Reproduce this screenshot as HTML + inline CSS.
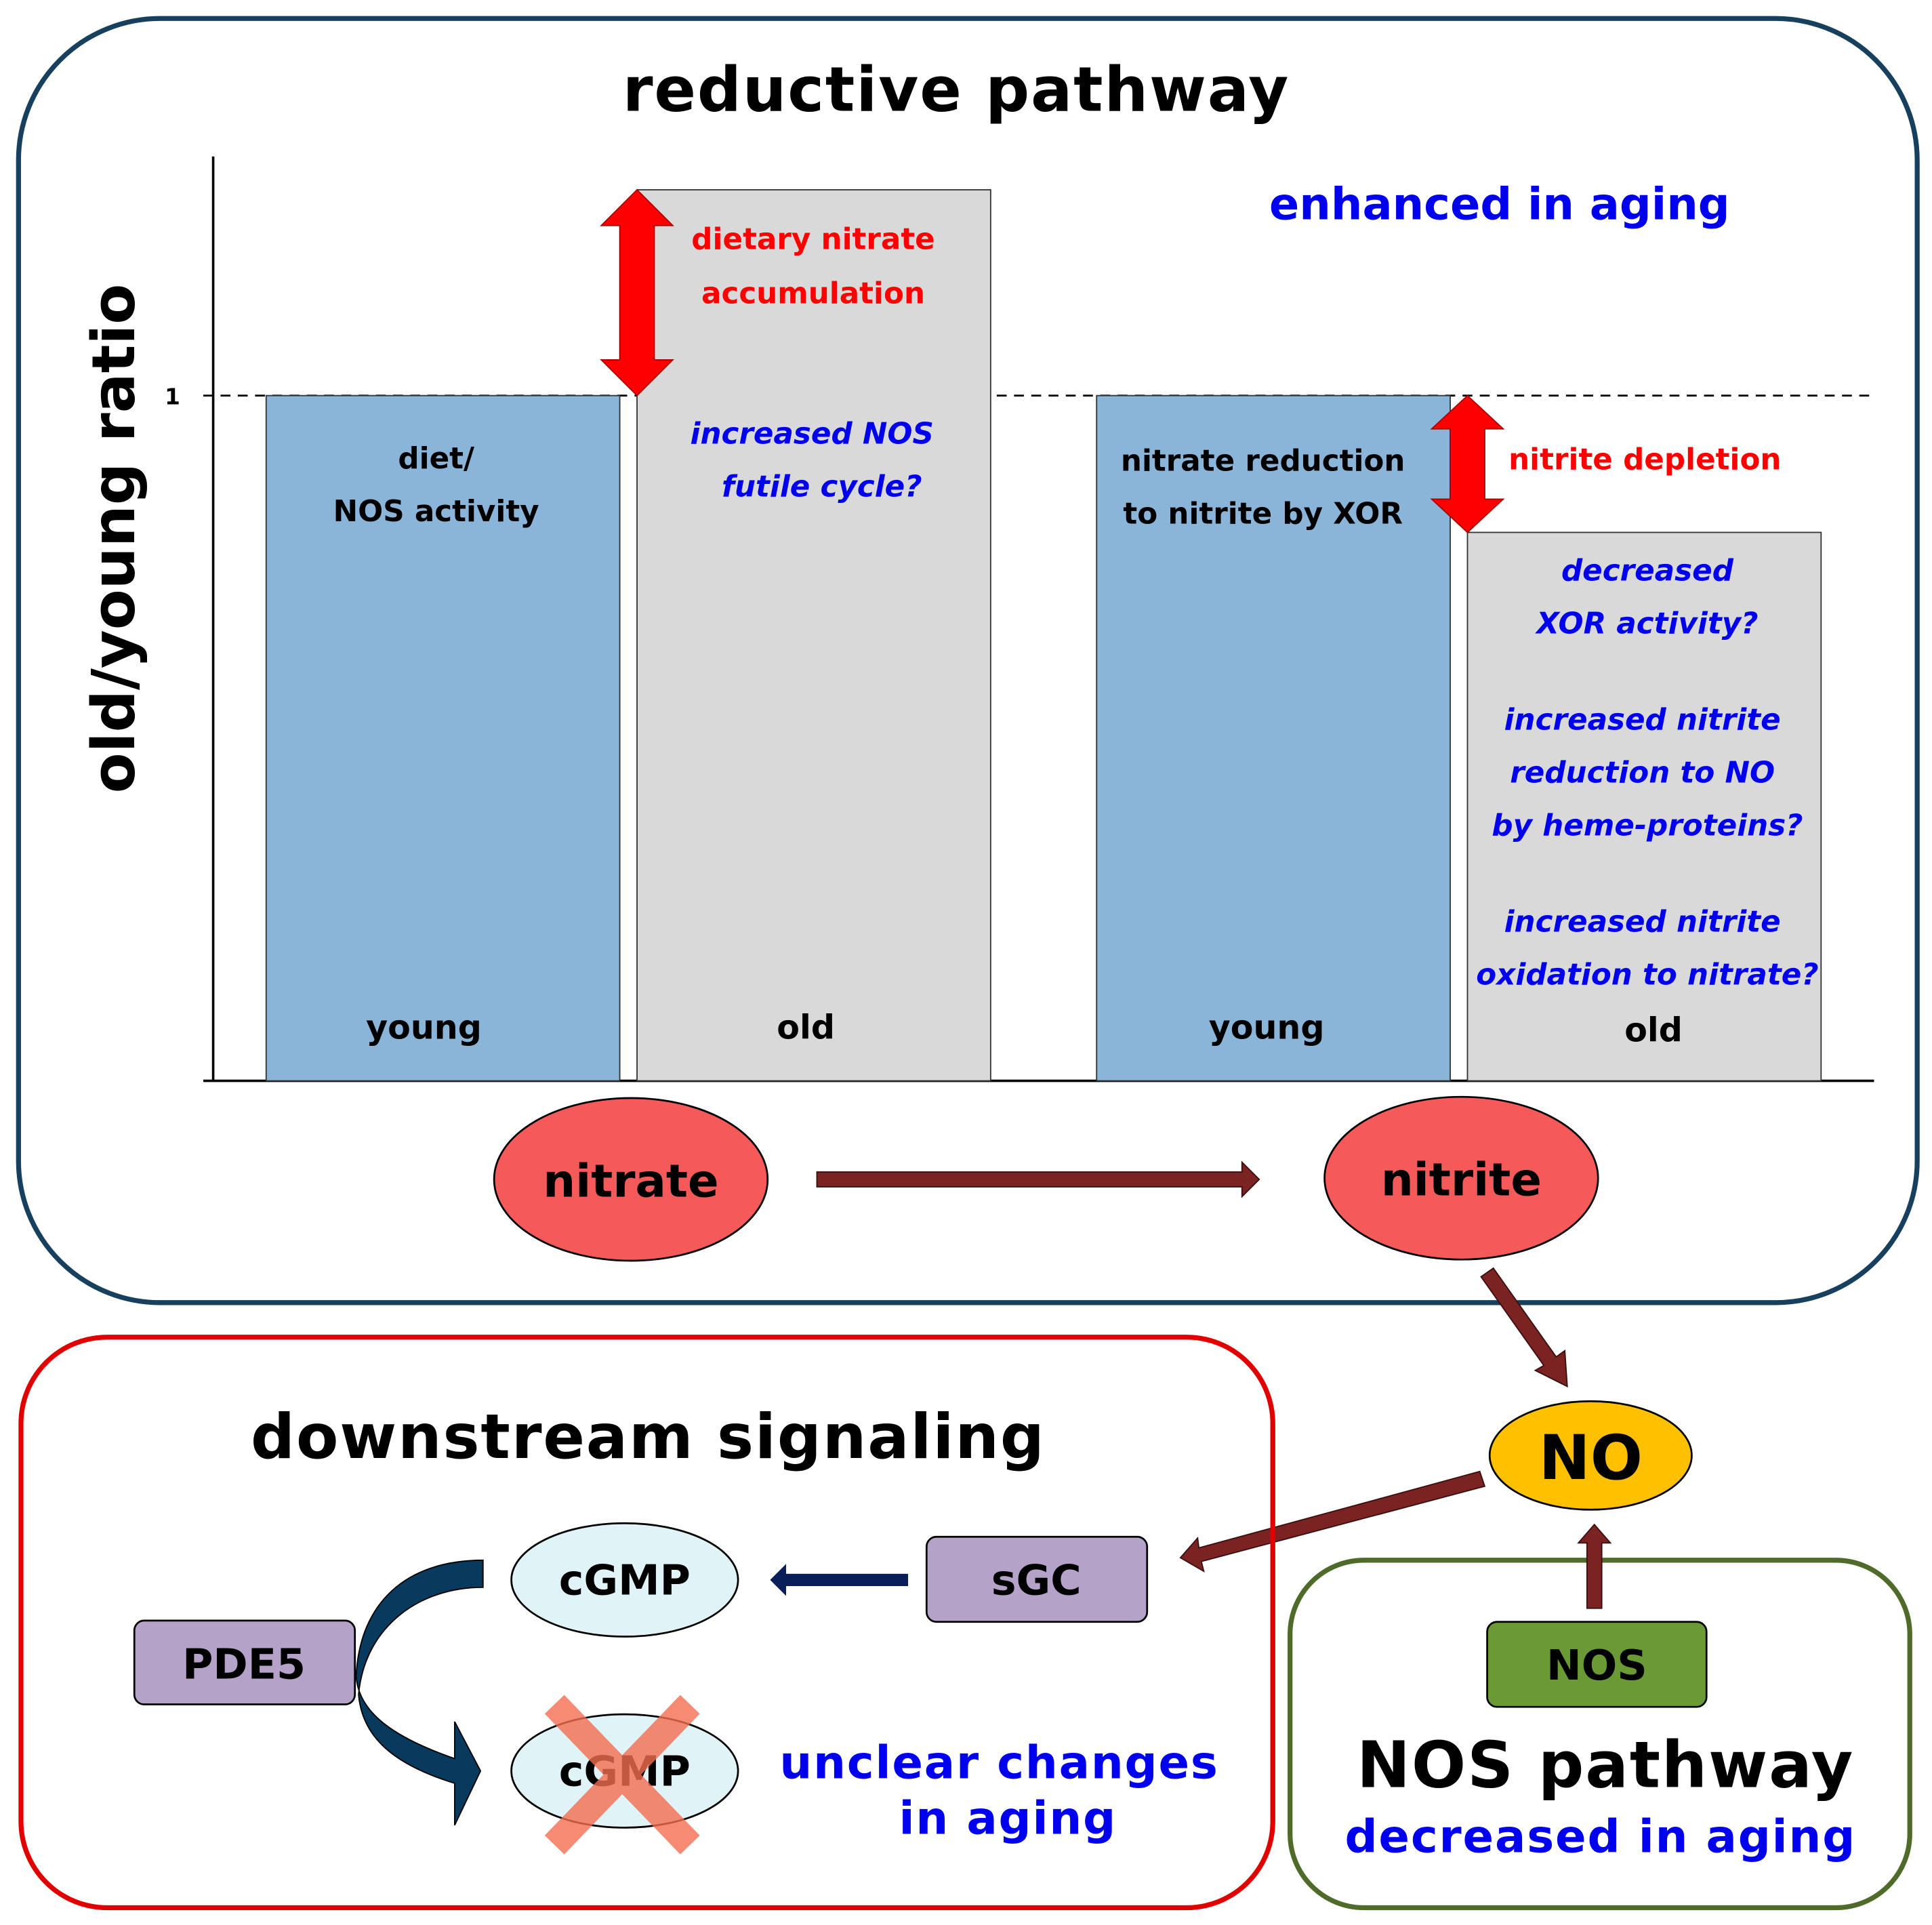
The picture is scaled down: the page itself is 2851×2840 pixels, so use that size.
<!DOCTYPE html>
<html><head><style>html,body{margin:0;padding:0;background:#fff}svg{display:block}</style></head><body>
<svg xmlns="http://www.w3.org/2000/svg" width="2851" height="2840" viewBox="0 0 1568 1562" font-family="'DejaVu Sans', sans-serif" font-weight="bold">
<rect width="1568" height="1562" fill="#fff"/>
<rect x="15" y="15" width="1541" height="1042" rx="115" fill="none" stroke="#17405f" stroke-width="4"/>
<text x="776" y="90" font-size="50" text-anchor="middle" letter-spacing="1">reductive pathway</text>
<text x="1217" y="178" font-size="36" fill="#0000ee" text-anchor="middle">enhanced in aging</text>
<line x1="173" y1="127" x2="173" y2="877" stroke="#000" stroke-width="2"/>
<line x1="165" y1="877" x2="1521" y2="877" stroke="#000" stroke-width="2"/>
<line x1="165" y1="321" x2="1521" y2="321" stroke="#000" stroke-width="1.5" stroke-dasharray="8,6"/>
<text x="140" y="328" font-size="18" text-anchor="middle">1</text>
<text transform="translate(109,437) rotate(-90)" font-size="48" text-anchor="middle">old/young ratio</text>
<rect x="216" y="321" width="287" height="556" fill="#8ab4d8" stroke="#333" stroke-width="1"/>
<rect x="517" y="154" width="287" height="723" fill="#d9d9d9" stroke="#333" stroke-width="1"/>
<rect x="890" y="321" width="287" height="556" fill="#8ab4d8" stroke="#333" stroke-width="1"/>
<rect x="1191" y="432" width="287" height="445" fill="#d9d9d9" stroke="#333" stroke-width="1"/>
<g font-size="24" text-anchor="middle">
<text x="354" y="380">diet/</text>
<text x="354" y="423">NOS activity</text>
<text x="344" y="843" font-size="27">young</text>
<text x="654" y="843" font-size="27">old</text>
<text x="1025" y="382">nitrate reduction</text>
<text x="1025" y="425">to nitrite by XOR</text>
<text x="1028" y="843" font-size="27">young</text>
<text x="1342" y="845" font-size="27">old</text>
</g>
<g font-size="24" text-anchor="middle" fill="#ff0000">
<text x="660" y="202">dietary nitrate</text>
<text x="660" y="246">accumulation</text>
<text x="1335" y="381">nitrite depletion</text>
</g>
<g font-size="24" text-anchor="middle" fill="#0000ee" font-style="italic">
<text x="659" y="360">increased NOS</text>
<text x="667" y="403">futile cycle?</text>
<text x="1337" y="471">decreased</text>
<text x="1337" y="514">XOR activity?</text>
<text x="1333" y="592">increased nitrite</text>
<text x="1333" y="635">reduction to NO</text>
<text x="1337" y="678">by heme-proteins?</text>
<text x="1333" y="756">increased nitrite</text>
<text x="1337" y="799">oxidation to nitrate?</text>
</g>
<polygon points="517,154 546,183 531,183 531,292 546,292 517,321 488,292 503,292 503,183 488,183" fill="#ff0000" stroke="#a00" stroke-width="1"/>
<polygon points="1191,321 1220,348 1205,348 1205,405 1220,405 1191,432 1162,405 1177,405 1177,348 1162,348" fill="#ff0000" stroke="#a00" stroke-width="1"/>
<ellipse cx="512" cy="957" rx="111" ry="66" fill="#f45a5a" stroke="#000" stroke-width="1.5"/>
<text x="512" y="971" font-size="37" text-anchor="middle">nitrate</text>
<ellipse cx="1186" cy="956" rx="111" ry="66" fill="#f45a5a" stroke="#000" stroke-width="1.5"/>
<text x="1186" y="970" font-size="37" text-anchor="middle">nitrite</text>
<polygon points="663,951 1008,951 1008,943 1022,957 1008,971 1008,963 663,963" fill="#7b2222" stroke="#3a0f0f" stroke-width="1"/>
<polygon points="1202,1036 1212,1029 1263,1101 1270,1096 1272,1125 1246,1112 1253,1108" fill="#7b2222" stroke="#3a0f0f" stroke-width="1"/>
<ellipse cx="1291" cy="1181" rx="82" ry="44" fill="#ffc000" stroke="#000" stroke-width="1.5"/>
<text x="1291" y="1200" font-size="50" text-anchor="middle">NO</text>
<polygon points="1201,1194 1205,1206 975,1267 977,1275 958,1264 972,1248 973,1256" fill="#7b2222" stroke="#3a0f0f" stroke-width="1"/>
<rect x="17" y="1085" width="1016" height="463" rx="70" fill="none" stroke="#e00000" stroke-width="4"/>
<text x="526" y="1183" font-size="50" text-anchor="middle" letter-spacing="1">downstream signaling</text>
<rect x="1047" y="1266" width="503" height="282" rx="60" fill="none" stroke="#4e6b2a" stroke-width="4"/>
<rect x="1207" y="1316" width="178" height="69" rx="8" fill="#6b9a34" stroke="#000" stroke-width="1.5"/>
<text x="1296" y="1363" font-size="34" text-anchor="middle">NOS</text>
<polygon points="1288,1305 1300,1305 1300,1252 1307,1252 1294,1237 1281,1252 1288,1252" fill="#7b2222" stroke="#3a0f0f" stroke-width="1"/>
<text x="1303" y="1450" font-size="52" text-anchor="middle" letter-spacing="1">NOS pathway</text>
<text x="1299" y="1503" font-size="37" text-anchor="middle" fill="#0000ee" letter-spacing="1">decreased in aging</text>
<rect x="752" y="1247" width="179" height="69" rx="8" fill="#b4a2c8" stroke="#000" stroke-width="1.5"/>
<text x="841" y="1294" font-size="34" text-anchor="middle">sGC</text>
<polygon points="737,1277 737,1287 638,1287 638,1295 625,1282 638,1269 638,1277" fill="#0a1f5a"/>
<ellipse cx="507" cy="1282" rx="92" ry="46" fill="#e0f4f8" stroke="#000" stroke-width="1.5"/>
<text x="507" y="1294" font-size="34" text-anchor="middle">cGMP</text>
<ellipse cx="507" cy="1437" rx="92" ry="46" fill="#e0f4f8" stroke="#000" stroke-width="1.5"/>
<text x="507" y="1449" font-size="34" text-anchor="middle">cGMP</text>
<g stroke="#f46e50" stroke-width="22" opacity="0.8">
<line x1="450" y1="1383" x2="560" y2="1497"/>
<line x1="560" y1="1383" x2="450" y2="1497"/>
</g>
<rect x="109" y="1315" width="179" height="68" rx="8" fill="#b4a2c8" stroke="#000" stroke-width="1.5"/>
<text x="198" y="1362" font-size="34" text-anchor="middle">PDE5</text>
<path d="M392,1266 L392,1288 C340,1288 296,1320 291,1375 C294,1410 320,1432 369,1447 L369,1481 L390,1437 L369,1397 L369,1427 C320,1410 291,1390 289,1360 C292,1300 330,1266 392,1266 Z" fill="#073a5c" stroke="#000" stroke-width="1"/>
<text x="811" y="1443" font-size="37" text-anchor="middle" fill="#0000ee" letter-spacing="1">unclear changes</text>
<text x="818" y="1488" font-size="37" text-anchor="middle" fill="#0000ee" letter-spacing="1">in aging</text>
</svg>
</body></html>
